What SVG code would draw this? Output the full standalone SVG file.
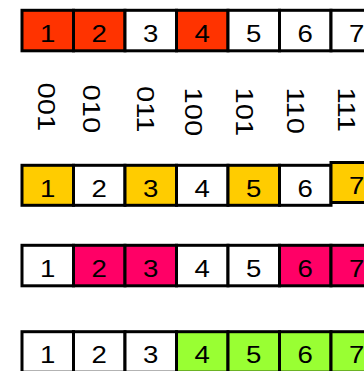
<svg xmlns="http://www.w3.org/2000/svg" width="364" height="371" viewBox="0 0 364 371">
<style>
.c{stroke:#000;stroke-width:3}
.w{fill:#fff}.r{fill:#FF3300}.y{fill:#FFCC00}.p{fill:#FF0066}.g{fill:#99FF33}
.t{font-family:"Liberation Sans",Arial,sans-serif;font-size:23px;fill:#000;text-anchor:middle}
.l{font-family:"Liberation Sans",Arial,sans-serif;font-size:23px;fill:#000}
</style>
<rect width="364" height="371" fill="#fff"/>
<g id="row1">
<rect class="c r" x="22" y="10.3" width="51.5" height="40.5"/>
<rect class="c r" x="73.5" y="10.3" width="51.5" height="40.5"/>
<rect class="c w" x="125" y="10.3" width="51.5" height="40.5"/>
<rect class="c r" x="176.5" y="10.3" width="51.5" height="40.5"/>
<rect class="c w" x="228" y="10.3" width="51.5" height="40.5"/>
<rect class="c w" x="279.5" y="10.3" width="51.5" height="40.5"/>
<rect class="c w" x="331" y="10.3" width="51.5" height="40.5"/>
<text class="t" transform="translate(47.7,41.7) scale(1.2,1)">1</text>
<text class="t" transform="translate(99.2,41.7) scale(1.2,1)">2</text>
<text class="t" transform="translate(150.7,41.7) scale(1.2,1)">3</text>
<text class="t" transform="translate(202.2,41.7) scale(1.2,1)">4</text>
<text class="t" transform="translate(253.7,41.7) scale(1.2,1)">5</text>
<text class="t" transform="translate(305.2,41.7) scale(1.2,1)">6</text>
<text class="t" transform="translate(356.7,41.7) scale(1.2,1)">7</text>
</g>
<g id="labels">
<text class="l" transform="translate(38.3,82.5) rotate(90) scale(1.27,1)">001</text>
<text class="l" transform="translate(82.7,84.5) rotate(90) scale(1.27,1)">010</text>
<text class="l" transform="translate(136.7,86) rotate(90) scale(1.27,1)">011</text>
<text class="l" transform="translate(185,87.5) rotate(90) scale(1.27,1)">100</text>
<text class="l" transform="translate(236,87.5) rotate(90) scale(1.27,1)">101</text>
<text class="l" transform="translate(286.7,87.5) rotate(90) scale(1.27,1)">110</text>
<text class="l" transform="translate(338,87.5) rotate(90) scale(1.27,1)">111</text>
</g>
<g id="row2">
<rect class="c y" x="22" y="165.3" width="51.5" height="40"/>
<rect class="c w" x="73.5" y="165.3" width="51.5" height="40"/>
<rect class="c y" x="125" y="165.3" width="51.5" height="40"/>
<rect class="c w" x="176.5" y="165.3" width="51.5" height="40"/>
<rect class="c y" x="228" y="165.3" width="51.5" height="40"/>
<rect class="c w" x="279.5" y="165.3" width="51.5" height="40"/>
<rect class="c y" x="331" y="162.5" width="51.5" height="40"/>
<text class="t" transform="translate(47.7,196.5) scale(1.2,1)">1</text>
<text class="t" transform="translate(99.2,196.5) scale(1.2,1)">2</text>
<text class="t" transform="translate(150.7,196.5) scale(1.2,1)">3</text>
<text class="t" transform="translate(202.2,196.5) scale(1.2,1)">4</text>
<text class="t" transform="translate(253.7,196.5) scale(1.2,1)">5</text>
<text class="t" transform="translate(305.2,196.5) scale(1.2,1)">6</text>
<text class="t" transform="translate(356.7,193.7) scale(1.2,1)">7</text>
</g>
<g id="row3">
<rect class="c w" x="22" y="245.3" width="51.5" height="40.5"/>
<rect class="c p" x="73.5" y="245.3" width="51.5" height="40.5"/>
<rect class="c p" x="125" y="245.3" width="51.5" height="40.5"/>
<rect class="c w" x="176.5" y="245.3" width="51.5" height="40.5"/>
<rect class="c w" x="228" y="245.3" width="51.5" height="40.5"/>
<rect class="c p" x="279.5" y="245.3" width="51.5" height="40.5"/>
<rect class="c p" x="331" y="245.3" width="51.5" height="40.5"/>
<text class="t" transform="translate(47.7,276.5) scale(1.2,1)">1</text>
<text class="t" transform="translate(99.2,276.5) scale(1.2,1)">2</text>
<text class="t" transform="translate(150.7,276.5) scale(1.2,1)">3</text>
<text class="t" transform="translate(202.2,276.5) scale(1.2,1)">4</text>
<text class="t" transform="translate(253.7,276.5) scale(1.2,1)">5</text>
<text class="t" transform="translate(305.2,276.5) scale(1.2,1)">6</text>
<text class="t" transform="translate(356.7,276.5) scale(1.2,1)">7</text>
</g>
<g id="row4">
<rect class="c w" x="22" y="331.7" width="51.5" height="40.5"/>
<rect class="c w" x="73.5" y="331.7" width="51.5" height="40.5"/>
<rect class="c w" x="125" y="331.7" width="51.5" height="40.5"/>
<rect class="c g" x="176.5" y="331.7" width="51.5" height="40.5"/>
<rect class="c g" x="228" y="331.7" width="51.5" height="40.5"/>
<rect class="c g" x="279.5" y="331.7" width="51.5" height="40.5"/>
<rect class="c g" x="331" y="331.7" width="51.5" height="40.5"/>
<text class="t" transform="translate(47.7,362.5) scale(1.2,1)">1</text>
<text class="t" transform="translate(99.2,362.5) scale(1.2,1)">2</text>
<text class="t" transform="translate(150.7,362.5) scale(1.2,1)">3</text>
<text class="t" transform="translate(202.2,362.5) scale(1.2,1)">4</text>
<text class="t" transform="translate(253.7,362.5) scale(1.2,1)">5</text>
<text class="t" transform="translate(305.2,362.5) scale(1.2,1)">6</text>
<text class="t" transform="translate(356.7,362.5) scale(1.2,1)">7</text>
</g>
</svg>
